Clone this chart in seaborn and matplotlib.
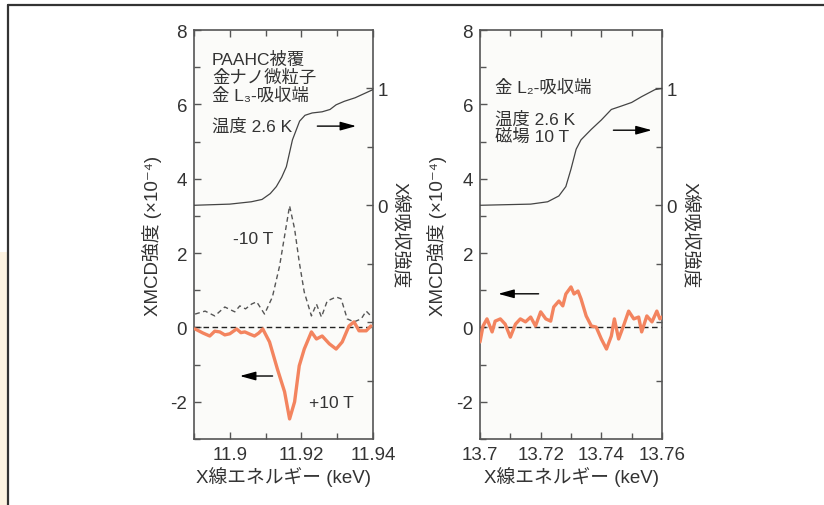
import matplotlib
matplotlib.use("Agg")
import matplotlib.pyplot as plt
import seaborn as sns
from matplotlib.lines import Line2D
from matplotlib.patches import Rectangle
from matplotlib.ticker import MultipleLocator, FixedLocator, FixedFormatter

# ------------------------------------------------------------
# Data
# ------------------------------------------------------------
# Au L3 edge: XMCD at +10 T (orange) and -10 T (dashed), XAS (right axis)
l3_xmcd_e = [11.8903, 11.8925, 11.8944, 11.8958, 11.8972, 11.8986, 11.9000,
             11.9019, 11.9031, 11.9042, 11.9056, 11.9069, 11.9081, 11.9092,
             11.9111, 11.9133, 11.9153, 11.9167, 11.9181, 11.9194, 11.9208,
             11.9228, 11.9242, 11.9258, 11.9278, 11.9297, 11.9314, 11.9333,
             11.9347, 11.9361, 11.9381, 11.9394]
l3_xmcd_plus = [-0.04, -0.15, -0.23, -0.10, -0.12, -0.20, -0.17,
                -0.04, -0.14, -0.12, -0.18, -0.23, -0.15, -0.04,
                -0.39, -1.12, -1.73, -2.46, -2.00, -1.03, -0.58,
                -0.12, -0.31, -0.23, -0.44, -0.58, -0.39, 0.04,
                0.15, -0.09, -0.09, 0.04]
l3_minus_e = [11.8903, 11.8931, 11.8958, 11.8986, 11.9014, 11.9028, 11.9044,
              11.9061, 11.9075, 11.9097, 11.9119, 11.9139, 11.9153, 11.9167,
              11.9181, 11.9194, 11.9208, 11.9228, 11.9242, 11.9256, 11.9272,
              11.9297, 11.9311, 11.9328, 11.9347, 11.9367, 11.9381, 11.9394]
l3_xmcd_minus = [0.36, 0.44, 0.31, 0.55, 0.42, 0.58, 0.50,
                 0.63, 0.69, 0.36, 0.82, 1.65, 2.46, 3.27,
                 2.65, 1.76, 0.95, 0.31, 0.63, 0.28, 0.71,
                 0.82, 0.77, 0.23, 0.15, 0.23, 0.44, 0.31]
l3_xas_e = [11.8900, 11.9000, 11.9060, 11.9090, 11.9113, 11.9130, 11.9145,
            11.9158, 11.9175, 11.9195, 11.9210, 11.9230, 11.9258, 11.9280,
            11.9297, 11.9320, 11.9350, 11.9400]
l3_xas = [0.00, 0.01, 0.03, 0.05, 0.10, 0.16, 0.24,
          0.33, 0.56, 0.72, 0.77, 0.79, 0.80, 0.82,
          0.86, 0.89, 0.92, 0.99]

# Au L2 edge: XMCD at 10 T (orange) and XAS (right axis)
l2_xmcd_e = [13.7000, 13.7010, 13.7023, 13.7040, 13.7050, 13.7067, 13.7083,
             13.7100, 13.7117, 13.7133, 13.7150, 13.7167, 13.7183, 13.7200,
             13.7217, 13.7233, 13.7243, 13.7260, 13.7273, 13.7283, 13.7300,
             13.7310, 13.7323, 13.7333, 13.7350, 13.7367, 13.7383, 13.7400,
             13.7417, 13.7433, 13.7443, 13.7457, 13.7473, 13.7490, 13.7507,
             13.7523, 13.7533, 13.7550, 13.7567, 13.7583, 13.7593, 13.7600]
l2_xmcd = [-0.39, 0.04, 0.23, -0.12, 0.17, 0.23, 0.09,
           -0.26, 0.09, 0.23, 0.15, 0.28, 0.04, 0.42,
           0.23, 0.17, 0.55, 0.71, 0.58, 0.90, 1.09,
           0.90, 0.98, 0.77, 0.31, 0.04, 0.01, -0.31,
           -0.58, -0.23, 0.23, -0.31, 0.04, 0.44, 0.23,
           0.28, -0.12, 0.31, 0.15, 0.44, 0.23, 0.28]
l2_xas_e = [13.7000, 13.7167, 13.7223, 13.7260, 13.7283, 13.7300, 13.7317,
            13.7333, 13.7367, 13.7400, 13.7433, 13.7467, 13.7500, 13.7533,
            13.7577, 13.7600]
l2_xas = [0.00, 0.01, 0.03, 0.08, 0.16, 0.31, 0.48,
          0.56, 0.65, 0.73, 0.82, 0.85, 0.88, 0.93,
          0.99, 1.00]

# ------------------------------------------------------------
# Style
# ------------------------------------------------------------
sns.set_theme(style="ticks")
plt.rcParams["font.family"] = ["Liberation Sans", "Noto Sans CJK JP", "DejaVu Sans"]
plt.rcParams["axes.unicode_minus"] = False

ORANGE = "#f3845f"
DARK = "#333333"
SPINE = "#555555"
FS = 13.5
NOTE_FS = 12.5

fig = plt.figure(figsize=(8.24, 5.06), dpi=100, facecolor="white")

# page decoration of the reference
fig.add_artist(Rectangle((0, 0), 8 / 824, 0.5, transform=fig.transFigure,
                         color="#fdf3e1", lw=0, zorder=0))
fig.add_artist(Line2D([8 / 824, 1], [1 - 6 / 506] * 2, transform=fig.transFigure,
                      color="#333333", lw=1.6))
fig.add_artist(Line2D([8 / 824] * 2, [0, 1 - 6 / 506], transform=fig.transFigure,
                      color="#333333", lw=1.6))

ax_l = fig.add_axes([194 / 824, 1 - 440 / 506, 179 / 824, 409 / 506])
ax_r = fig.add_axes([480 / 824, 1 - 440 / 506, 182 / 824, 409 / 506])


def style_axes(ax, twin, xlim, xminor, xticks, xticklabels):
    ax.set_facecolor("#fbfbf9")
    ax.set_xlim(*xlim)
    ax.set_ylim(-3, 8)
    ax.xaxis.set_major_locator(FixedLocator(xticks))
    ax.xaxis.set_major_formatter(FixedFormatter(xticklabels))
    ax.xaxis.set_minor_locator(MultipleLocator(xminor))
    ax.yaxis.set_major_locator(MultipleLocator(2))
    ax.yaxis.set_minor_locator(MultipleLocator(1))
    ax.tick_params(which="both", direction="in", top=True, colors=SPINE,
                   labelcolor=DARK, labelsize=FS, width=1)
    ax.tick_params(which="major", length=5, pad=5)
    ax.tick_params(which="minor", length=4)
    ax.set_xlabel("X線エネルギー (keV)", fontsize=FS, color=DARK, labelpad=2)
    ax.set_ylabel("XMCD強度 (×10⁻⁴)", fontsize=FS, color=DARK)
    ax.yaxis.set_label_coords(-0.18, 0.5)
    for s in ax.spines.values():
        s.set_color(SPINE)
        s.set_linewidth(1.2)

    twin.set_ylim(-2, 1.5)
    twin.yaxis.set_major_locator(FixedLocator([0, 1]))
    twin.yaxis.set_major_formatter(FixedFormatter(["0", "1"]))
    twin.yaxis.set_minor_locator(FixedLocator([-1.5, -1, -0.5, 0.5]))
    twin.tick_params(which="both", direction="in", colors=SPINE,
                     labelcolor=DARK, labelsize=FS, width=1)
    twin.tick_params(which="major", length=5, pad=3)
    twin.tick_params(which="minor", length=4)
    twin.set_ylabel("X線吸収強度", fontsize=FS, color=DARK, rotation=270)
    twin.yaxis.set_label_coords(1.2, 0.5)
    for s in twin.spines.values():
        s.set_visible(False)
    ax.axhline(0, color="#222222", ls=(0, (4, 2.5)), lw=1, zorder=1)


def arrow(ax, x0, x1, y):
    ax.annotate("", xy=(x1, y), xytext=(x0, y), xycoords="axes fraction",
                arrowprops=dict(arrowstyle="-|>,head_length=0.8,head_width=0.22",
                                color="black", lw=1, shrinkA=0, shrinkB=0))


def note(ax, x, y, s, ha="left"):
    ax.text(x, y, s, transform=ax.transAxes, fontsize=NOTE_FS, color=DARK,
            va="center", ha=ha)


# ---------------- Left panel: L3 edge ----------------
tw_l = ax_l.twinx()
style_axes(ax_l, tw_l, (11.89, 11.94), 0.01,
           [11.90, 11.92, 11.94], ["11.9", "11.92", "11.94"])
sns.lineplot(x=l3_minus_e, y=l3_xmcd_minus, ax=ax_l, color="#555555",
             lw=1, linestyle=(0, (3.5, 2.5)), zorder=3)
sns.lineplot(x=l3_xmcd_e, y=l3_xmcd_plus, ax=ax_l, color=ORANGE,
             lw=2.4, zorder=4)
sns.lineplot(x=l3_xas_e, y=l3_xas, ax=tw_l, color="#444444", lw=0.9)

note(ax_l, 0.10, 0.929, "PAAHC被覆")
note(ax_l, 0.10, 0.885, "金ナノ微粒子")
note(ax_l, 0.10, 0.843, "金 L₃-吸収端")
note(ax_l, 0.10, 0.765, "温度 2.6 K")
note(ax_l, 0.33, 0.489, "-10 T", ha="center")
note(ax_l, 0.77, 0.09, "+10 T", ha="center")
arrow(ax_l, 0.689, 0.906, 0.765)
arrow(ax_l, 0.439, 0.256, 0.154)

# ---------------- Right panel: L2 edge ----------------
tw_r = ax_r.twinx()
style_axes(ax_r, tw_r, (13.70, 13.76), 0.01,
           [13.70, 13.72, 13.74, 13.76], ["13.7", "13.72", "13.74", "13.76"])
sns.lineplot(x=l2_xmcd_e, y=l2_xmcd, ax=ax_r, color=ORANGE, lw=2.4, zorder=4)
sns.lineplot(x=l2_xas_e, y=l2_xas, ax=tw_r, color="#444444", lw=0.9)

note(ax_r, 0.083, 0.863, "金 L₂-吸収端")
note(ax_r, 0.083, 0.782, "温度 2.6 K")
note(ax_r, 0.083, 0.741, "磁場 10 T")
arrow(ax_r, 0.733, 0.944, 0.755)
arrow(ax_r, 0.322, 0.100, 0.355)

fig.savefig("out.png", dpi=100, facecolor="white")
